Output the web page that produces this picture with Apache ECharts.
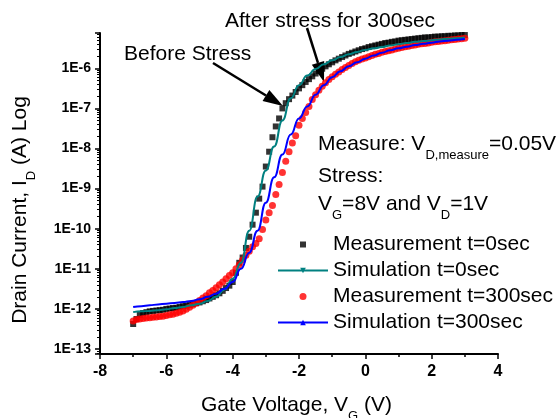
<!DOCTYPE html>
<html>
<head>
<meta charset="utf-8">
<script src="https://cdn.jsdelivr.net/npm/echarts@6/dist/echarts.min.js"></script>
<style>
html, body { margin: 0; padding: 0; background: #fff; }
#chart { width: 560px; height: 418px; }
</style>
</head>
<body>
<div id="chart"></div>
<script>
// gate voltage sweep of the measured points (V)
const vgMeas = [
  -7, -6.9, -6.8, -6.7, -6.6, -6.5, -6.4, -6.3, -6.2, -6.1,
  -6, -5.9, -5.8, -5.7, -5.6, -5.5, -5.4, -5.3, -5.2, -5.1,
  -5, -4.9, -4.8, -4.7, -4.6, -4.5, -4.4, -4.3, -4.2, -4.1,
  -4, -3.9, -3.8, -3.7, -3.6, -3.5, -3.4, -3.3, -3.2, -3.1,
  -3, -2.9, -2.8, -2.7, -2.6, -2.5, -2.4, -2.3, -2.2, -2.1,
  -2, -1.9, -1.8, -1.7, -1.6, -1.5, -1.4, -1.3, -1.2, -1.1,
  -1, -0.9, -0.8, -0.7, -0.6, -0.5, -0.4, -0.3, -0.2, -0.1,
  0, 0.1, 0.2, 0.3, 0.4, 0.5, 0.6, 0.7, 0.8, 0.9,
  1, 1.1, 1.2, 1.3, 1.4, 1.5, 1.6, 1.7, 1.8, 1.9,
  2, 2.1, 2.2, 2.3, 2.4, 2.5, 2.6, 2.7, 2.8, 2.9,
  3
]

// drain current, measurement before stress (A)
const idMeas0 = [
  4.2e-13, 5.6e-13, 7.1e-13, 7.9e-13, 8.3e-13, 8.7e-13, 8.9e-13, 9.1e-13, 9.3e-13, 9.5e-13,
  1.0e-12, 1.02e-12, 1.05e-12, 1.07e-12, 1.12e-12, 1.17e-12, 1.2e-12, 1.26e-12, 1.32e-12, 1.38e-12,
  1.45e-12, 1.55e-12, 1.66e-12, 1.82e-12, 2.0e-12, 2.19e-12, 2.45e-12, 2.82e-12, 3.31e-12, 3.8e-12,
  4.68e-12, 7.94e-12, 1.41e-11, 1.91e-11, 3.31e-11, 6.31e-11, 1.26e-10, 2.51e-10, 5.62e-10, 1.12e-9,
  3.55e-9, 8.32e-9, 1.91e-8, 3.55e-8, 5.62e-8, 1.0e-7, 1.35e-7, 1.7e-7, 2.09e-7, 2.57e-7,
  3.16e-7, 3.8e-7, 4.57e-7, 5.37e-7, 6.31e-7, 7.41e-7, 8.51e-7, 9.77e-7, 1.12e-6, 1.26e-6,
  1.41e-6, 1.58e-6, 1.74e-6, 1.91e-6, 2.09e-6, 2.29e-6, 2.45e-6, 2.63e-6, 2.82e-6, 3.02e-6,
  3.16e-6, 3.39e-6, 3.55e-6, 3.72e-6, 3.89e-6, 4.07e-6, 4.27e-6, 4.37e-6, 4.57e-6, 4.68e-6,
  4.9e-6, 5.01e-6, 5.13e-6, 5.25e-6, 5.37e-6, 5.5e-6, 5.62e-6, 5.75e-6, 5.89e-6, 5.89e-6,
  6.03e-6, 6.17e-6, 6.17e-6, 6.31e-6, 6.31e-6, 6.46e-6, 6.46e-6, 6.61e-6, 6.61e-6, 6.76e-6,
  6.76e-6
]

// drain current, measurement after 300 s stress (A)
const idMeas300 = [
  5.0e-13, 5.4e-13, 5.6e-13, 5.75e-13, 5.9e-13, 6.0e-13, 6.2e-13, 6.3e-13, 6.5e-13, 6.6e-13,
  6.8e-13, 7.1e-13, 7.4e-13, 7.8e-13, 8.3e-13, 8.9e-13, 9.8e-13, 1.1e-12, 1.23e-12, 1.41e-12,
  1.62e-12, 1.86e-12, 2.14e-12, 2.51e-12, 2.88e-12, 3.39e-12, 3.98e-12, 4.68e-12, 5.62e-12, 6.76e-12,
  7.94e-12, 1.0e-11, 1.26e-11, 1.66e-11, 2.19e-11, 2.75e-11, 3.55e-11, 4.27e-11, 5.62e-11, 9.55e-11,
  1.66e-10, 2.51e-10, 3.8e-10, 7.08e-10, 1.26e-9, 2.51e-9, 4.79e-9, 8.32e-9, 1.38e-8, 2.09e-8,
  3.8e-8, 5.62e-8, 7.94e-8, 1.12e-7, 1.66e-7, 2.19e-7, 2.82e-7, 3.55e-7, 4.37e-7, 5.25e-7,
  6.17e-7, 7.08e-7, 8.13e-7, 9.33e-7, 1.05e-6, 1.17e-6, 1.32e-6, 1.45e-6, 1.58e-6, 1.7e-6,
  1.82e-6, 1.95e-6, 2.09e-6, 2.24e-6, 2.34e-6, 2.51e-6, 2.63e-6, 2.75e-6, 2.88e-6, 3.02e-6,
  3.16e-6, 3.31e-6, 3.47e-6, 3.55e-6, 3.72e-6, 3.8e-6, 3.98e-6, 4.07e-6, 4.17e-6, 4.27e-6,
  4.47e-6, 4.57e-6, 4.68e-6, 4.79e-6, 4.9e-6, 5.01e-6, 5.13e-6, 5.25e-6, 5.37e-6, 5.5e-6,
  5.62e-6
]

// gate voltage of the simulated curves (V)
const vgSim = [
  -7, -6.75, -6.5, -6.25, -6, -5.75, -5.5, -5.25, -5, -4.75,
  -4.5, -4.25, -4, -3.75, -3.5, -3.25, -3, -2.75, -2.5, -2.25,
  -2, -1.75, -1.5, -1.25, -1, -0.75, -0.5, -0.25, 0, 0.25,
  0.5, 0.75, 1, 1.25, 1.5, 1.75, 2, 2.25, 2.5, 2.75,
  3
]

const idSim0 = [
  8.3e-13, 8.7e-13, 8.9e-13, 9.3e-13, 9.8e-13, 1.05e-12, 1.12e-12, 1.23e-12, 1.35e-12, 1.58e-12,
  2.0e-12, 3.02e-12, 5.62e-12, 1.41e-11, 8.91e-11, 6.31e-10, 2.82e-9, 1.12e-8, 5.01e-8, 1.78e-7,
  3.8e-7, 6.61e-7, 9.55e-7, 1.26e-6, 1.58e-6, 1.91e-6, 2.24e-6, 2.57e-6, 2.88e-6, 3.16e-6,
  3.39e-6, 3.72e-6, 3.98e-6, 4.27e-6, 4.57e-6, 4.79e-6, 5.01e-6, 5.25e-6, 5.5e-6, 5.62e-6,
  5.89e-6
]

const idSim300 = [
  1.12e-12, 1.17e-12, 1.23e-12, 1.29e-12, 1.35e-12, 1.41e-12, 1.48e-12, 1.58e-12, 1.74e-12, 2.0e-12,
  2.4e-12, 3.16e-12, 4.68e-12, 1.0e-11, 2.51e-11, 8.91e-11, 4.47e-10, 1.91e-9, 7.08e-9, 2.24e-8,
  5.62e-8, 1.12e-7, 2.19e-7, 3.8e-7, 6.03e-7, 8.51e-7, 1.12e-6, 1.41e-6, 1.74e-6, 2.09e-6,
  2.45e-6, 2.82e-6, 3.16e-6, 3.47e-6, 3.8e-6, 4.07e-6, 4.37e-6, 4.68e-6, 4.9e-6, 5.13e-6,
  5.37e-6
]

const FONT = '"Liberation Sans", Arial, sans-serif'

const pairs = (xs, ys) => xs.map((x, i) => [x, ys[i]])

// line with a filled head, in pixels
function arrow(x1, y1, x2, y2) {
  const len = Math.hypot(x2 - x1, y2 - y1)
  const ux = (x2 - x1) / len
  const uy = (y2 - y1) / len
  const bx = x2 - ux * 20
  const by = y2 - uy * 20
  return [
    {
      type: 'line',
      shape: { x1: x1, y1: y1, x2: bx, y2: by },
      style: { stroke: '#000', lineWidth: 2.5 }
    },
    {
      type: 'polygon',
      shape: { points: [[x2, y2], [bx - uy * 6.5, by + ux * 6.5], [bx + uy * 6.5, by - ux * 6.5]] },
      style: { fill: '#000' }
    }
  ]
}

const subRich = {
  m: { fontSize: 21, fontFamily: FONT, fill: '#000' },
  s: { fontSize: 13, fontFamily: FONT, fill: '#000', padding: [22, 0, 0, 0] }
}

function note(x, y, text) {
  return {
    type: 'text',
    x: x,
    y: y,
    style: { text: text, rich: subRich, align: 'left', verticalAlign: 'middle' }
  }
}

const chart = echarts.init(document.getElementById('chart'))

const option = {
  animation: false,
  backgroundColor: '#fff',

  grid: {
    left: 100,
    right: 62,
    top: 33,
    bottom: 64,
    outerBoundsMode: 'none'
  },

  legend: {
    orient: 'vertical',
    left: 272,
    top: 229,
    itemWidth: 50,
    itemHeight: 7,
    itemGap: 5,
    textStyle: { fontFamily: FONT, fontSize: 21, color: '#000' },
    data: [
      { name: 'Measurement t=0sec', icon: 'path://M0,0M50,7M22,0.5h6v6h-6z' },
      { name: 'Simulation t=0sec' },
      { name: 'Measurement t=300sec', icon: 'path://M0,0M50,7M28.5,3.5a3.5,3.5 0 1,1 -7,0a3.5,3.5 0 1,1 7,0z' },
      { name: 'Simulation t=300sec' }
    ]
  },

  xAxis: {
    type: 'value',
    min: -8,
    max: 4,
    interval: 2,
    axisLine: { show: true, onZero: false, lineStyle: { color: '#000', width: 2 } },
    axisTick: { show: true, length: 5, lineStyle: { color: '#000', width: 1.5 } },
    minorTick: { show: true, splitNumber: 2, length: 3, lineStyle: { color: '#000', width: 1.5 } },
    splitLine: { show: false },
    axisLabel: { color: '#000', fontFamily: FONT, fontSize: 16, fontWeight: 'bold', margin: 10 },
    name: 'Gate Voltage, V{s|G} (V)',
    nameLocation: 'middle',
    nameGap: 34,
    nameTextStyle: {
      fontFamily: FONT,
      fontSize: 21,
      color: '#000',
      padding: [0, 5, 0, 0],
      rich: { s: { fontSize: 13, padding: [22, 0, 0, 0] } }
    }
  },

  yAxis: {
    type: 'log',
    logBase: 10,
    min: 7.5e-14,
    max: 7.6e-6,
    axisLine: { show: true, onZero: false, lineStyle: { color: '#000', width: 2 } },
    axisTick: { show: true, length: 5, lineStyle: { color: '#000', width: 1.5 } },
    minorTick: { show: true, splitNumber: 9, length: 3, lineStyle: { color: '#000', width: 1 } },
    splitLine: { show: false },
    axisLabel: {
      color: '#000',
      fontFamily: FONT,
      fontSize: 14,
      fontWeight: 'bold',
      margin: 9,
      formatter: (v) => {
        const e = Math.log10(v)
        const r = Math.round(e)
        return Math.abs(e - r) < 1e-6 ? '1E' + r : ''
      }
    },
    name: 'Drain Current, I{s|D} (A) Log',
    nameLocation: 'middle',
    nameRotate: 90,
    nameGap: 62,
    nameTextStyle: {
      fontFamily: FONT,
      fontSize: 21,
      color: '#000',
      padding: [0, 33, 0, 0],
      rich: { s: { fontSize: 13, padding: [22, 0, 0, 0] } }
    }
  },

  graphic: [
    { type: 'text', x: 124, y: 54, style: { text: 'Before Stress', fontFamily: FONT, fontSize: 21, fill: '#000', verticalAlign: 'middle' } },
    { type: 'text', x: 225, y: 21, style: { text: 'After stress for 300sec', fontFamily: FONT, fontSize: 21, fill: '#000', verticalAlign: 'middle' } },
    ...arrow(213, 63, 283, 106),
    ...arrow(307, 28, 324, 82),
    note(318, 144, '{m|Measure: V}{s|D,measure}{m|=0.05V}'),
    note(318, 176, '{m|Stress:}'),
    note(318, 204, '{m|V}{s|G}{m|=8V and V}{s|D}{m|=1V}')
  ],

  series: [
    {
      name: 'Measurement t=0sec',
      type: 'scatter',
      data: pairs(vgMeas, idMeas0),
      symbol: 'rect',
      symbolSize: 6,
      itemStyle: { color: '#000' }
    },
    {
      name: 'Simulation t=0sec',
      type: 'line',
      data: pairs(vgSim, idSim0),
      symbol: 'triangle',
      symbolRotate: 180,
      showSymbol: false,
      smooth: true,
      smoothMonotone: 'x',
      lineStyle: { color: '#008080', width: 2 },
      itemStyle: { color: '#008080' }
    },
    {
      name: 'Measurement t=300sec',
      type: 'scatter',
      data: pairs(vgMeas, idMeas300),
      symbol: 'circle',
      symbolSize: 7,
      itemStyle: { color: '#ff0000' }
    },
    {
      name: 'Simulation t=300sec',
      type: 'line',
      data: pairs(vgSim, idSim300),
      symbol: 'triangle',
      showSymbol: false,
      smooth: true,
      smoothMonotone: 'x',
      lineStyle: { color: '#0000ff', width: 2 },
      itemStyle: { color: '#0000ff' }
    }
  ]
}

chart.setOption(option)
</script>
</body>
</html>
